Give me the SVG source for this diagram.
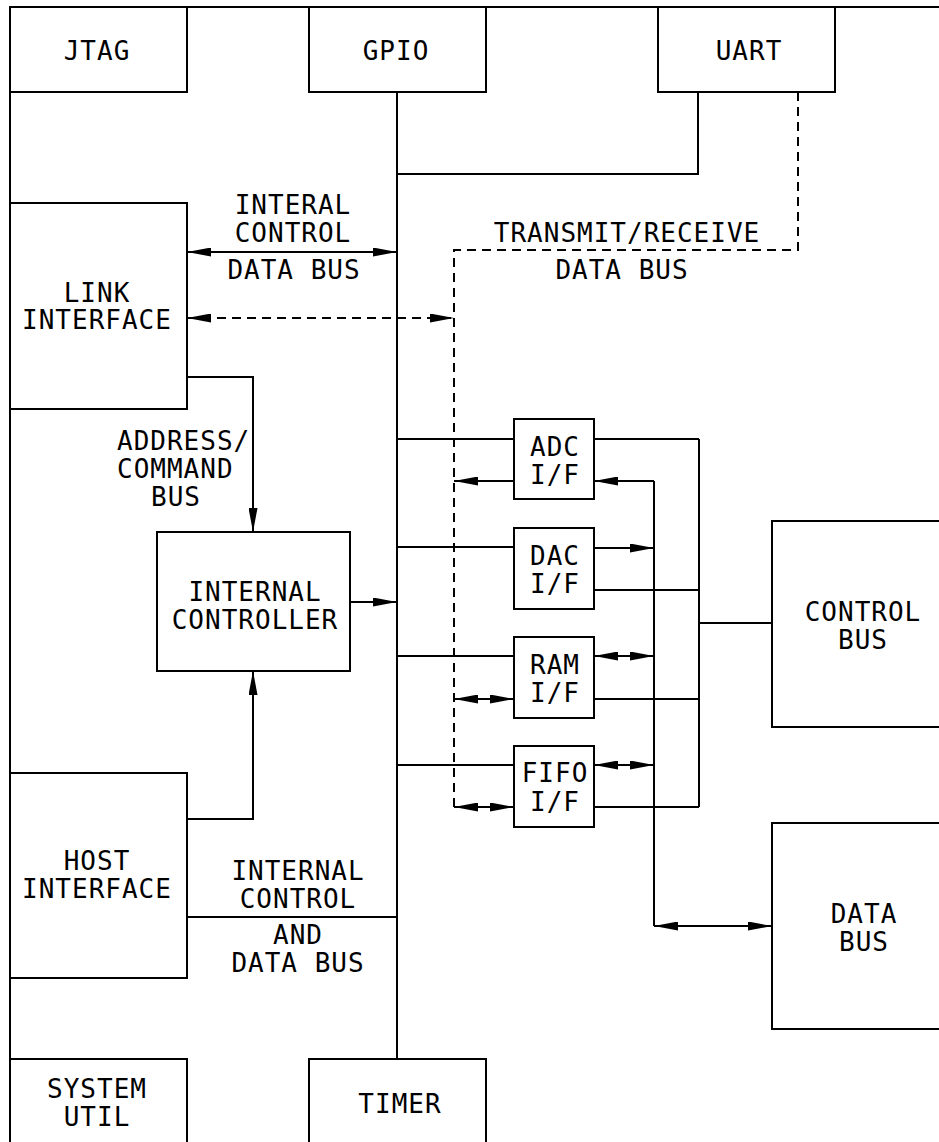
<svg xmlns="http://www.w3.org/2000/svg" width="939" height="1142" viewBox="0 0 939 1142">
<style>
.b{fill:none;stroke:#000;stroke-width:2}
.l{fill:none;stroke:#000;stroke-width:2}
.d{fill:none;stroke:#000;stroke-width:2;stroke-dasharray:9 6}
text{font-family:"DejaVu Sans Mono","Liberation Mono",monospace;font-size:26px;letter-spacing:1px;fill:#000;text-anchor:middle}
.s{text-anchor:start}
</style>
<defs>
<marker id="ah" viewBox="0 0 24 9" refX="24" refY="4.5" markerWidth="24" markerHeight="9" markerUnits="userSpaceOnUse" orient="auto-start-reverse">
<path d="M0,0 L24,4.5 L0,9 z" fill="#000"/>
</marker>
</defs>
<rect width="939" height="1142" fill="#fff"/>
<g id="frame">
<line class="l" x1="10" y1="7" x2="939" y2="7"/>
<line class="l" x1="10" y1="7" x2="10" y2="1142"/>
</g>
<g id="jtag"><rect class="b" x="10" y="7" width="177" height="85"/><text x="97" y="60">JTAG</text></g>
<g id="gpio"><rect class="b" x="309" y="7" width="177" height="85"/><text x="396" y="60">GPIO</text></g>
<g id="uart"><rect class="b" x="658" y="7" width="177" height="85"/><text x="749" y="60">UART</text></g>
<g id="link"><rect class="b" x="10" y="203" width="177" height="206"/><text x="97" y="302">LINK</text><text x="97" y="329">INTERFACE</text></g>
<g id="controller"><rect class="b" x="157" y="532" width="193" height="139"/><text x="255" y="601">INTERNAL</text><text x="255" y="629">CONTROLLER</text></g>
<g id="host"><rect class="b" x="10" y="773" width="177" height="205"/><text x="97" y="870">HOST</text><text x="97" y="898">INTERFACE</text></g>
<g id="sysutil"><rect class="b" x="10" y="1059" width="177" height="100"/><text x="97" y="1098">SYSTEM</text><text x="97" y="1126">UTIL</text></g>
<g id="timer"><rect class="b" x="309" y="1059" width="177" height="100"/><text x="400" y="1113">TIMER</text></g>
<g id="adc"><rect class="b" x="514" y="419" width="80" height="80"/><text x="555" y="456">ADC</text><text x="555" y="484">I/F</text></g>
<g id="dac"><rect class="b" x="514" y="528" width="80" height="81"/><text x="555" y="565">DAC</text><text x="555" y="593">I/F</text></g>
<g id="ram"><rect class="b" x="514" y="637" width="80" height="81"/><text x="555" y="674">RAM</text><text x="555" y="702">I/F</text></g>
<g id="fifo"><rect class="b" x="514" y="746" width="80" height="81"/><text x="555" y="782">FIFO</text><text x="555" y="811">I/F</text></g>
<g id="controlbus"><rect class="b" x="772" y="521" width="180" height="206"/><text x="863" y="621">CONTROL</text><text x="863" y="649">BUS</text></g>
<g id="databus"><rect class="b" x="772" y="823" width="180" height="206"/><text x="864" y="923">DATA</text><text x="864" y="951">BUS</text></g>
<g id="connectors">
<line class="l" x1="397" y1="92" x2="397" y2="1059"/>
<polyline class="l" points="397,174 698,174 698,92"/>
<polyline class="d" points="798,92 798,250 454,250 454,807"/>
<line class="l" x1="187" y1="252" x2="397" y2="252" marker-start="url(#ah)" marker-end="url(#ah)"/>
<line class="d" x1="187" y1="318" x2="454" y2="318" marker-start="url(#ah)" marker-end="url(#ah)"/>
<polyline class="l" points="187,377 253,377 253,532" marker-end="url(#ah)"/>
<polyline class="l" points="187,819 253,819 253,671" marker-end="url(#ah)"/>
<line class="l" x1="350" y1="602" x2="397" y2="602" marker-end="url(#ah)"/>
<line class="l" x1="187" y1="917" x2="397" y2="917"/>
<line class="l" x1="397" y1="439" x2="514" y2="439"/>
<line class="l" x1="397" y1="547" x2="514" y2="547"/>
<line class="l" x1="397" y1="656" x2="514" y2="656"/>
<line class="l" x1="397" y1="765" x2="514" y2="765"/>
<line class="l" x1="514" y1="481" x2="454" y2="481" marker-end="url(#ah)"/>
<line class="l" x1="454" y1="699" x2="514" y2="699" marker-start="url(#ah)" marker-end="url(#ah)"/>
<line class="l" x1="454" y1="807" x2="514" y2="807" marker-start="url(#ah)" marker-end="url(#ah)"/>
<line class="l" x1="654" y1="481" x2="654" y2="926"/>
<line class="l" x1="654" y1="926" x2="772" y2="926" marker-start="url(#ah)" marker-end="url(#ah)"/>
<line class="l" x1="654" y1="481" x2="594" y2="481" marker-end="url(#ah)"/>
<line class="l" x1="594" y1="548" x2="654" y2="548" marker-end="url(#ah)"/>
<line class="l" x1="594" y1="656" x2="654" y2="656" marker-start="url(#ah)" marker-end="url(#ah)"/>
<line class="l" x1="594" y1="765" x2="654" y2="765" marker-start="url(#ah)" marker-end="url(#ah)"/>
<line class="l" x1="594" y1="439" x2="699" y2="439"/>
<line class="l" x1="594" y1="590" x2="699" y2="590"/>
<line class="l" x1="594" y1="699" x2="699" y2="699"/>
<line class="l" x1="594" y1="807" x2="699" y2="807"/>
<line class="l" x1="699" y1="439" x2="699" y2="807"/>
<line class="l" x1="699" y1="623" x2="772" y2="623"/>
</g>
<g id="labels">
<text x="293" y="214">INTERAL</text>
<text x="293" y="242">CONTROL</text>
<text x="294" y="279">DATA BUS</text>
<text x="627" y="242">TRANSMIT/RECEIVE</text>
<text x="622" y="279">DATA BUS</text>
<text class="s" x="117" y="450">ADDRESS/</text>
<text class="s" x="117" y="478">COMMAND</text>
<text x="176" y="506">BUS</text>
<text x="298" y="880">INTERNAL</text>
<text x="298" y="908">CONTROL</text>
<text x="298" y="944">AND</text>
<text x="298" y="972">DATA BUS</text>
</g>
</svg>
